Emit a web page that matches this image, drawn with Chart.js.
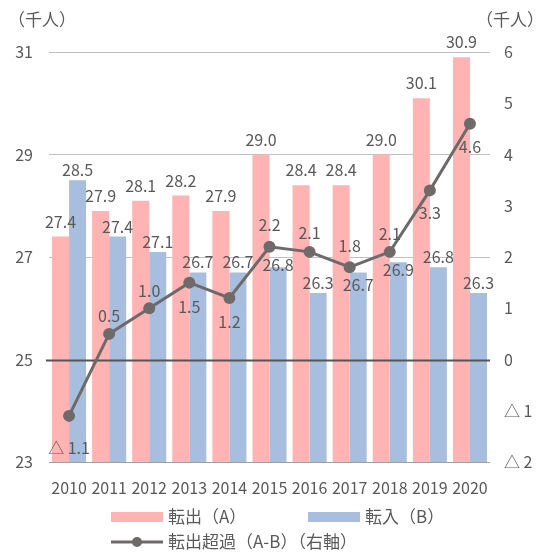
<!DOCTYPE html>
<html lang="ja">
<head>
<meta charset="UTF-8">
<title>転出・転入の推移</title>
<script src="https://cdn.jsdelivr.net/npm/chart.js"></script>
<style>
  html, body { margin: 0; padding: 0; background: #fff; }
  #wrap { width: 545px; height: 553px; position: relative; }
</style>
</head>
<body>
<div id="wrap"><canvas id="chart"></canvas></div>
<script>
  // data
  const years = ['2010', '2011', '2012', '2013', '2014', '2015', '2016', '2017', '2018', '2019', '2020'];
  const outflow = [27.4, 27.9, 28.1, 28.2, 27.9, 29.0, 28.4, 28.4, 29.0, 30.1, 30.9];   // 転出(A)
  const inflow = [28.5, 27.4, 27.1, 26.7, 26.7, 26.8, 26.3, 26.7, 26.9, 26.8, 26.3];    // 転入(B)
  const netOut = [-1.1, 0.5, 1.0, 1.5, 1.2, 2.2, 2.1, 1.8, 2.1, 3.3, 4.6];             // 転出超過(A-B)
  const leftTicks = [23, 25, 27, 29, 31];
  const rightTicks = [-2, -1, 0, 1, 2, 3, 4, 5, 6];

  const FONT = '"Noto Sans CJK JP", "Noto Sans", sans-serif';
  const TEXT = '#595959';
  const PINK = '#ffb3b3';
  const BLUE = '#a7bede';
  const LINE = '#6e6a6a';

  Chart.defaults.font.family = FONT;
  Chart.defaults.color = TEXT;

  // Excel style negative numbers: △ 1.1
  const tri = (v, d) => (v < 0 ? '△ ' : '') + Math.abs(v).toFixed(d);

  // where the net labels sit relative to their point (px, + is down)
  const netLabelShift = [32, -18, -17, 24, 24, -22, -19, -21, -18, 23, 23];

  const labelsPlugin = {
    id: 'valueLabels',
    beforeDatasetDraw(chart, args) {
      // the 0 line of the right axis goes over the bars, under the line
      if (args.meta.type !== 'line') return;
      const ctx = chart.ctx;
      const y = Math.round(chart.scales.y1.getPixelForValue(0)) + 0.5;
      ctx.save();
      ctx.strokeStyle = '#555';
      ctx.lineWidth = 2;
      ctx.beginPath();
      ctx.moveTo(chart.chartArea.left - 3, y);
      ctx.lineTo(chart.chartArea.right, y);
      ctx.stroke();
      ctx.restore();
    },
    afterDatasetsDraw(chart) {
      const ctx = chart.ctx;
      ctx.save();
      ctx.font = '16px ' + FONT;
      ctx.fillStyle = TEXT;
      ctx.textAlign = 'center';
      ctx.textBaseline = 'middle';
      const pts = chart.getDatasetMeta(0).data;
      chart.getDatasetMeta(1).data.forEach((bar, i) => {
        ctx.fillText(outflow[i].toFixed(1), bar.x, bar.y - 15);
      });
      chart.getDatasetMeta(2).data.forEach((bar, i) => {
        let y = bar.y - 10;
        // push the label under the point when they would collide
        if (Math.abs(y - pts[i].y) < 14) y = pts[i].y + 18;
        ctx.fillText(inflow[i].toFixed(1), bar.x, y);
      });
      pts.forEach((p, i) => {
        ctx.fillText(tri(netOut[i], 1), p.x, p.y + netLabelShift[i]);
      });
      ctx.restore();
    },
    afterDraw(chart) {
      const ctx = chart.ctx;
      ctx.save();
      ctx.fillStyle = TEXT;
      ctx.textBaseline = 'middle';
      ctx.textAlign = 'center';
      ctx.font = '17px ' + FONT;
      ctx.fillText('（千人）', 42, 20);
      ctx.fillText('（千人）', 510, 20);

      // legend, laid out in two columns like the original
      ctx.textAlign = 'left';
      ctx.font = '17px ' + FONT;
      const items = [
        { text: '転出（A）', color: PINK, x: 111, y: 517 },
        { text: '転入（B）', color: BLUE, x: 308, y: 517 },
        { text: '転出超過（A-B）（右軸）', color: LINE, x: 111, y: 542, line: true }
      ];
      items.forEach(it => {
        if (it.line) {
          ctx.strokeStyle = it.color;
          ctx.lineWidth = 3;
          ctx.beginPath();
          ctx.moveTo(it.x, it.y);
          ctx.lineTo(it.x + 52, it.y);
          ctx.stroke();
          ctx.fillStyle = it.color;
          ctx.beginPath();
          ctx.arc(it.x + 26, it.y, 5, 0, Math.PI * 2);
          ctx.fill();
        } else {
          ctx.fillStyle = it.color;
          ctx.fillRect(it.x, it.y - 5, 52, 10);
        }
        ctx.fillStyle = TEXT;
        ctx.fillText(it.text, it.x + 57, it.y);
      });
      ctx.restore();
    }
  };

  new Chart(document.getElementById('chart'), {
    type: 'bar',
    data: {
      labels: years,
      datasets: [
        {
          type: 'line',
          label: '転出超過（A-B）（右軸）',
          data: netOut,
          yAxisID: 'y1',
          borderColor: LINE,
          backgroundColor: LINE,
          borderWidth: 3,
          pointRadius: 6,
          pointHoverRadius: 6,
          pointBorderWidth: 0,
          tension: 0,
          order: 0
        },
        {
          label: '転出（A）',
          data: outflow,
          yAxisID: 'y',
          backgroundColor: PINK,
          borderWidth: 0,
          categoryPercentage: 0.85,
          barPercentage: 1,
          order: 1
        },
        {
          label: '転入（B）',
          data: inflow,
          yAxisID: 'y',
          backgroundColor: BLUE,
          borderWidth: 0,
          categoryPercentage: 0.85,
          barPercentage: 1,
          order: 1
        }
      ]
    },
    options: {
      responsive: true,
      maintainAspectRatio: false,
      animation: false,
      layout: { padding: { top: 52, left: 0, right: 0, bottom: 0 } },
      plugins: {
        legend: { display: false },
        tooltip: { enabled: false }
      },
      scales: {
        x: {
          grid: { display: false, drawTicks: false },
          border: { display: false },
          ticks: { autoSkip: false, maxRotation: 0, padding: 16, font: { size: 16 }, color: TEXT },
          afterFit: s => { s.height = 91; }
        },
        y: {
          position: 'left',
          min: 23,
          max: 31,
          afterBuildTicks: s => { s.ticks = leftTicks.map(v => ({ value: v })); },
          grid: {
            drawTicks: false,
            color: c => c.tick.value === 25 ? 'rgba(0,0,0,0)' : (c.tick.value === 23 ? '#a0a0a0' : '#c0c0c0'),
            lineWidth: 1
          },
          border: { display: false },
          ticks: { padding: 16, font: { size: 16 }, color: TEXT },
          afterFit: s => { s.width = 49; }
        },
        y1: {
          position: 'right',
          min: -2,
          max: 6,
          afterBuildTicks: s => { s.ticks = rightTicks.map(v => ({ value: v })); },
          grid: { display: false, drawTicks: false },
          border: { display: false },
          ticks: { padding: 14, font: { size: 16 }, color: TEXT, callback: v => tri(v, 0) },
          afterFit: s => { s.width = 55; }
        }
      }
    },
    plugins: [labelsPlugin]
  });
</script>
</body>
</html>
